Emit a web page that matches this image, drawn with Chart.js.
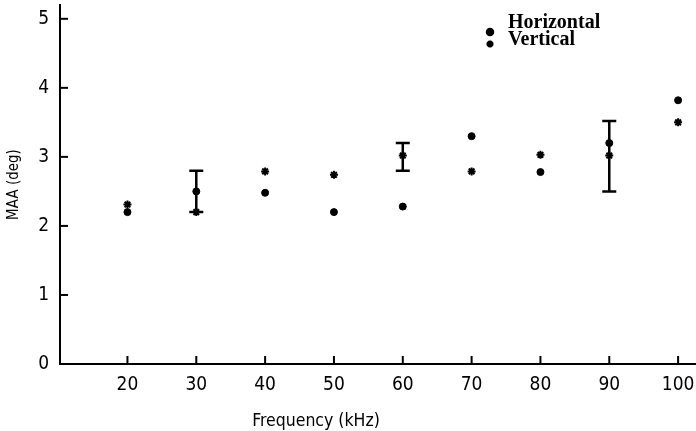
<!DOCTYPE html>
<html>
<head>
<meta charset="utf-8">
<script src="https://cdn.jsdelivr.net/npm/chart.js@4.4.1/dist/chart.umd.min.js"></script>
<style>
  body { margin: 0; background: #fff; }
  #wrap { position: relative; width: 696px; height: 431px; }
  #chart { position: absolute; left: 0; top: 0; }
  .lbl { position: absolute; color: #000; white-space: nowrap; }
  .leg { font: bold 20px 'Liberation Serif', serif; line-height: 20px; left: 508px; }
  #xtitle { font: 17.5px 'Liberation Sans Narrow', 'DejaVu Sans Condensed', sans-serif; line-height: 18px;
            left: 316px; top: 411px; transform: translateX(-50%); }
</style>
</head>
<body>
<div id="wrap">
  <canvas id="chart" width="696" height="431"></canvas>
  <div class="lbl leg" style="top:11px">Horizontal</div>
  <div class="lbl leg" style="top:28px">Vertical</div>
  <div class="lbl" id="xtitle">Frequency (kHz)</div>
</div>
<script>
// tần số (kHz)
const freqs = [20, 30, 40, 50, 60, 70, 80, 90, 100];
// MAA
const horizontal = [2.2, 2.5, 2.48, 2.2, 2.28, 3.3, 2.78, 3.2, 3.82];
const vertical = [2.31, 2.2, 2.79, 2.74, 3.02, 2.79, 3.03, 3.02, 3.5];
// thanh sai số
const errFreqs = [30, 60, 90];
const errLow = [2.2, 2.8, 2.5];
const errHigh = [2.8, 3.2, 3.52];

const axisFont = { family: "'Liberation Sans Narrow', 'DejaVu Sans Condensed', sans-serif", size: 19 };

// vạch chia hướng vào trong + thanh sai số + ký hiệu chú thích
const extras = {
    id: 'extras',
    afterDatasetsDraw(chart) {
        const { ctx, scales: { x, y } } = chart;
        ctx.save();
        ctx.strokeStyle = '#000';
        ctx.lineWidth = 2;
        y.ticks.forEach(t => {
            const py = y.getPixelForValue(t.value);
            ctx.beginPath(); ctx.moveTo(x.left, py); ctx.lineTo(x.left + 8, py); ctx.stroke();
        });
        x.ticks.forEach(t => {
            const px = x.getPixelForValue(t.value);
            ctx.beginPath(); ctx.moveTo(px, y.bottom); ctx.lineTo(px, y.bottom - 8); ctx.stroke();
        });
        ctx.lineWidth = 2.5;
        errFreqs.forEach((f, i) => {
            const px = x.getPixelForValue(f);
            const lo = y.getPixelForValue(errLow[i]);
            const hi = y.getPixelForValue(errHigh[i]);
            ctx.beginPath();
            ctx.moveTo(px, lo); ctx.lineTo(px, hi);
            ctx.moveTo(px - 7, lo); ctx.lineTo(px + 7, lo);
            ctx.moveTo(px - 7, hi); ctx.lineTo(px + 7, hi);
            ctx.stroke();
        });
        ctx.fillStyle = '#000';
        Chart.helpers.drawPoint(ctx, { pointStyle: 'circle', radius: 3, borderWidth: 1 }, 490, 32);
        Chart.helpers.drawPoint(ctx, { pointStyle: 'star', radius: 3.5, borderWidth: 2 }, 490, 44);
        ctx.restore();
    }
};

new Chart(document.getElementById('chart'), {
    type: 'scatter',
    data: {
        datasets: [
            {
                label: 'Horizontal',
                data: freqs.map((f, i) => ({ x: f, y: horizontal[i] })),
                pointStyle: 'circle',
                pointRadius: 3.5,
                backgroundColor: '#000',
                borderColor: '#000',
                borderWidth: 1
            },
            {
                label: 'Vertical',
                data: freqs.map((f, i) => ({ x: f, y: vertical[i] })),
                pointStyle: 'star',
                pointRadius: 4,
                backgroundColor: '#000',
                borderColor: '#000',
                borderWidth: 2
            }
        ]
    },
    options: {
        responsive: false,
        animation: false,
        layout: { autoPadding: false, padding: { top: 5, right: 0, left: 0, bottom: 0 } },
        plugins: { legend: { display: false }, tooltip: { enabled: false } },
        scales: {
            x: {
                type: 'linear',
                min: 10.2,
                max: 102.6,
                grid: { display: false, drawTicks: true, tickLength: 8 },
                border: { display: true, color: '#000', width: 2 },
                ticks: { stepSize: 10, includeBounds: false, color: '#000', font: axisFont, padding: 2 },
                afterFit: s => { s.height = 67; s.paddingLeft = 0; s.paddingRight = 0; }
            },
            y: {
                min: 0,
                max: 5.2,
                grid: { display: false, drawTicks: false },
                border: { display: true, color: '#000', width: 2 },
                ticks: { stepSize: 1, includeBounds: false, color: '#000', font: axisFont, padding: 11 },
                title: { display: true, text: 'MAA (deg)', color: '#000',
                         font: { family: axisFont.family, size: 15 }, padding: { top: 5, bottom: 4 } },
                afterFit: s => { s.width = 60; s.paddingTop = 0; s.paddingBottom = 0; }
            }
        }
    },
    plugins: [extras]
});
</script>
</body>
</html>
